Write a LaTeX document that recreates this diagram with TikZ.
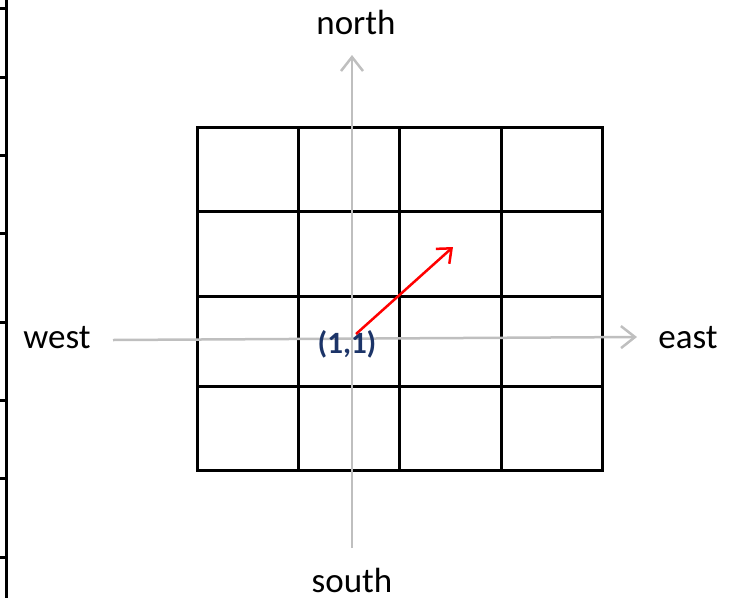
\documentclass[tikz,border=0pt]{standalone}
\usepackage{fontspec}
\setmainfont{Carlito}
\usetikzlibrary{arrows.meta}
\definecolor{axisgray}{RGB}{191,191,191}
\definecolor{navyblue}{RGB}{28,52,104}
\begin{document}
\begin{tikzpicture}[x=1pt,y=-1pt,
  gridline/.style={line width=3pt,black,line cap=rect},
  border/.style={line width=3pt,black},
  axis/.style={line width=2.5pt,axisgray,-{Straight Barb[length=14pt,width=22pt]}},
  dirlabel/.style={font=\fontsize{35}{42}\selectfont,inner sep=0pt},
  poslabel/.style={font=\fontsize{31}{37}\selectfont\bfseries,text=navyblue,inner sep=0pt},
  move/.style={line width=2.5pt,red,-{Straight Barb[length=12pt,width=20pt]}}]
\useasboundingbox (0,0) rectangle (740,598);
% left border with ticks
\draw[border] (6,0) -- (6,598);
\foreach \y in {8,77,155,233,322,400,478,557}
  \draw[border] (0,\y) -- (6,\y);
% grid
\foreach \x in {197,298,399,501,602}
  \draw[gridline] (\x,127) -- (\x,470);
\foreach \y in {127,211,296,386,470}
  \draw[gridline] (197,\y) -- (602,\y);
% direction labels
\node[dirlabel] (north) at (356,22) {north};
\node[dirlabel] (south) at (352,580) {south};
\node[dirlabel] (west) at (57,338) {west};
\node[dirlabel] (east) at (688,338) {east};
% axes
\coordinate (vbot) at (352,548);
\coordinate (vtop) at (352,55);
\coordinate (hleft) at (113,340);
\coordinate (hright) at (637,337);
\draw[axis] (vbot) -- (vtop);
\draw[axis] (hleft) -- (hright);
% position label
\node[poslabel] (p) at (347,344) {(1,1)};
% move arrow
\coordinate (mstart) at (356,334);
\coordinate (mend) at (453,247);
\draw[move] (mstart) -- (mend);
\end{tikzpicture}
\end{document}
